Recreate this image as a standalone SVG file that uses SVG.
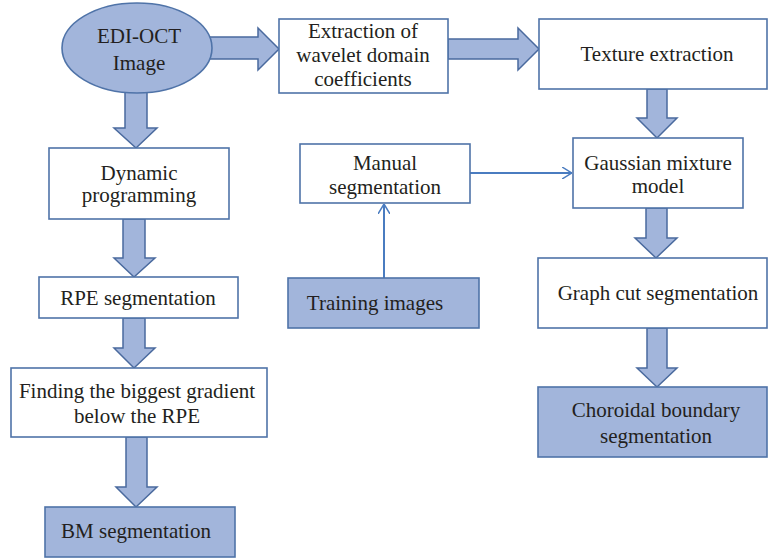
<svg xmlns="http://www.w3.org/2000/svg" width="768" height="558" viewBox="0 0 768 558" font-family="Liberation Serif, serif">
<defs>
<style>
.box{fill:#ffffff;stroke:#4f73a8;stroke-width:1.6}
.fill{fill:#a2b5db;stroke:#4f73a8;stroke-width:1.6}
.arr{fill:#a2b5db;stroke:#4a6a9e;stroke-width:1.5;stroke-linejoin:miter}
.t{font-family:'Liberation Serif',serif;font-size:21px;fill:#231f20;text-anchor:middle}
.ln{fill:none;stroke:#4a7cc0;stroke-width:2}
</style>
<marker id="open" viewBox="0 0 10 12" refX="10" refY="6" markerWidth="10" markerHeight="12" markerUnits="userSpaceOnUse" orient="auto">
<path d="M0,0 L10,6 L0,12" fill="none" stroke="#4a7cc0" stroke-width="1.5"/>
</marker>
</defs>
<g id="connectors">
<polygon class="arr" points="208,37 258,37 258,28 279,49 258,70 258,59 208,59"/>
<polygon class="arr" points="448,39 518,39 518,28 539,49 518,70 518,59 448,59"/>
<polygon class="arr" points="125,92 147,92 147,128 157,128 136,148 114,128 125,128"/>
<polygon class="arr" points="123,219 145,219 145,258 155,258 134,277 114,258 123,258"/>
<polygon class="arr" points="123,318 145,318 145,348 155,348 134,368 114,348 123,348"/>
<polygon class="arr" points="126,437 147,437 147,487 157,487 136,507 116,487 126,487"/>
<polygon class="arr" points="647,89 667,89 667,118 677,118 657,138 637,118 647,118"/>
<polygon class="arr" points="646,208 667,208 667,238 677,238 656,258 635,238 646,238"/>
<polygon class="arr" points="647,328 667,328 667,368 677,368 657,387 637,368 647,368"/>
<line class="ln" x1="470" y1="173" x2="572" y2="173" marker-end="url(#open)"/>
<line class="ln" x1="384" y1="278" x2="384" y2="204" marker-end="url(#open)"/>
</g>
<g id="edi-oct">
<ellipse class="fill" cx="137" cy="48" rx="75" ry="45"/>
<text class="t" x="139" y="43">EDI-OCT</text>
<text class="t" x="139" y="70">Image</text>
</g>
<g id="wavelet">
<rect class="box" x="279" y="19" width="169" height="74"/>
<text class="t" x="363" y="38">Extraction of</text>
<text class="t" x="363" y="62">wavelet domain</text>
<text class="t" x="363" y="86">coefficients</text>
</g>
<g id="texture">
<rect class="box" x="539" y="19" width="228" height="70"/>
<text class="t" x="657" y="61">Texture extraction</text>
</g>
<g id="manual">
<rect class="box" x="300" y="144" width="170" height="59"/>
<text class="t" x="385" y="170">Manual</text>
<text class="t" x="385" y="194">segmentation</text>
</g>
<g id="gmm">
<rect class="box" x="573" y="138" width="170" height="70"/>
<text class="t" x="658" y="170">Gaussian mixture</text>
<text class="t" x="658" y="193">model</text>
</g>
<g id="training">
<rect class="fill" x="288" y="278" width="191" height="50"/>
<text class="t" x="375" y="310">Training images</text>
</g>
<g id="graphcut">
<rect class="box" x="538" y="258" width="229" height="70"/>
<text class="t" x="658" y="300">Graph cut segmentation</text>
</g>
<g id="choroidal">
<rect class="fill" x="538" y="387" width="229" height="70"/>
<text class="t" x="656" y="417">Choroidal boundary</text>
<text class="t" x="656" y="443">segmentation</text>
</g>
<g id="dynamic">
<rect class="box" x="49" y="148" width="180" height="71"/>
<text class="t" x="139" y="180">Dynamic</text>
<text class="t" x="139" y="202">programming</text>
</g>
<g id="rpe">
<rect class="box" x="39" y="277" width="199" height="41"/>
<text class="t" x="138" y="305">RPE segmentation</text>
</g>
<g id="finding">
<rect class="box" x="11" y="368" width="256" height="69"/>
<text class="t" x="137" y="398">Finding the biggest gradient</text>
<text class="t" x="137" y="423">below the RPE</text>
</g>
<g id="bm">
<rect class="fill" x="45" y="507" width="190" height="50"/>
<text class="t" x="136" y="538">BM segmentation</text>
</g>
</svg>
